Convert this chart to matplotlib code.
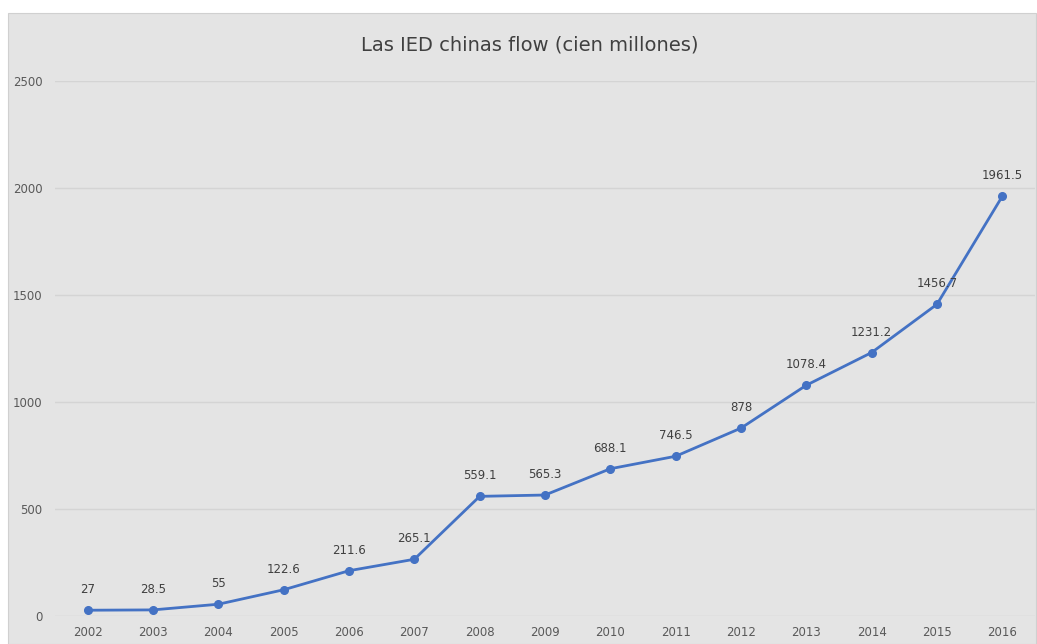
import matplotlib
matplotlib.use("Agg")
import matplotlib.pyplot as plt
from matplotlib.patches import Rectangle

years = ["2002", "2003", "2004", "2005", "2006", "2007", "2008", "2009",
         "2010", "2011", "2012", "2013", "2014", "2015", "2016"]
values = [27, 28.5, 55, 122.6, 211.6, 265.1, 559.1, 565.3,
          688.1, 746.5, 878, 1078.4, 1231.2, 1456.7, 1961.5]
labels = ["27", "28.5", "55", "122.6", "211.6", "265.1", "559.1", "565.3",
          "688.1", "746.5", "878", "1078.4", "1231.2", "1456.7", "1961.5"]
title = "Las IED chinas flow (cien millones)"

W, H = 1037, 644
fig = plt.figure(figsize=(W / 100, H / 100), dpi=100)
fig.patch.set_facecolor("white")
bg = "#e4e4e4"
fig.patches.append(Rectangle((8 / W, 0), (1036 - 8) / W, (H - 13) / H,
                             transform=fig.transFigure, facecolor=bg,
                             edgecolor="#d0d0d0", linewidth=0.8, zorder=-10))

left, right = 55 / W, 1035 / W
bottom, top = (H - 616) / H, (H - 81) / H
ax = fig.add_axes([left, bottom, right - left, top - bottom])
ax.set_zorder(5)
ax.patch.set_visible(False)

x = list(range(len(years)))
ax.plot(x, values, color="#4472C4", linewidth=2.0, marker="o",
        markersize=5.5, zorder=3, clip_on=False)
for xi, v, lab in zip(x, values, labels):
    ax.annotate(lab, (xi, v), xytext=(0, 10), textcoords="offset points",
                ha="center", va="bottom", fontsize=8.5, color="#404040")

ax.set_xlim(-0.5, len(years) - 0.5)
ax.set_ylim(0, 2500)
ax.set_yticks([0, 500, 1000, 1500, 2000, 2500])
ax.set_xticks(x)
ax.set_xticklabels(years)
ax.tick_params(axis="both", length=0, labelsize=8.5, colors="#595959")
ax.tick_params(axis="y", pad=9)
ax.tick_params(axis="x", pad=7)
ax.grid(axis="y", color="#d4d4d4", linewidth=1)
ax.set_axisbelow(True)
for s in ax.spines.values():
    s.set_visible(False)

fig.text(530 / W, 1 - 45 / H, title, ha="center", va="center",
         fontsize=14, color="#404040")

fig.savefig("out.png", dpi=100)
